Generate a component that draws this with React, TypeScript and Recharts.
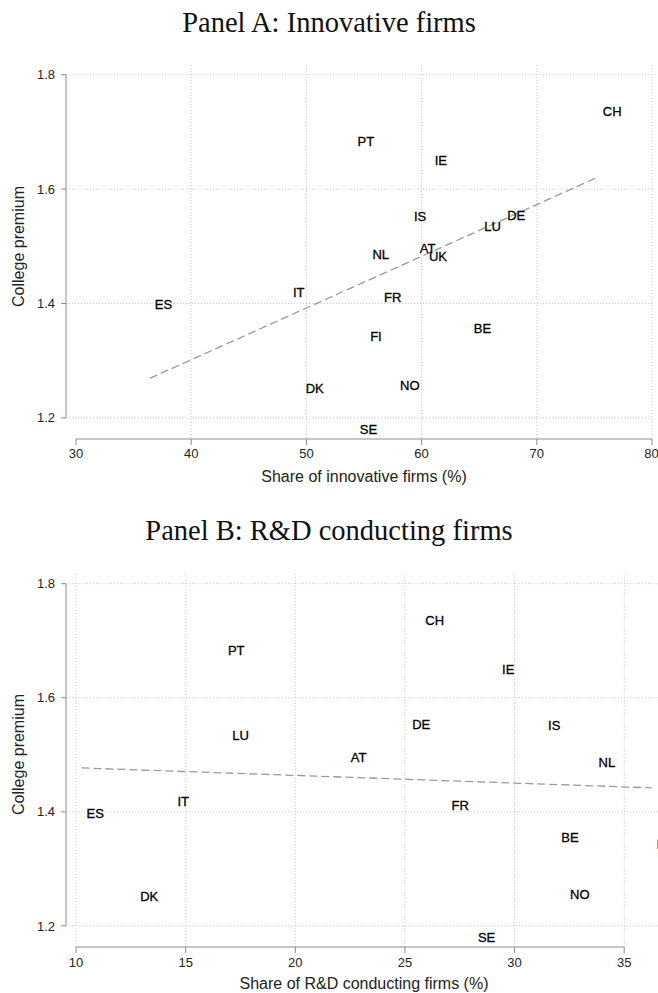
import { ScatterChart, Scatter, XAxis, YAxis, CartesianGrid, ReferenceLine, Label } from "recharts";

// country codes and college premium (same for both panels)
const countries = ["CH", "PT", "IE", "IS", "DE", "LU", "NL", "AT", "UK", "IT", "ES", "FR", "BE", "FI", "DK", "NO", "SE"];
const collegePremium = [1.736, 1.683, 1.65, 1.552, 1.554, 1.535, 1.486, 1.496, 1.483, 1.419, 1.398, 1.411, 1.356, 1.343, 1.251, 1.256, 1.18];

// x values per panel (UK not shown in panel B)
const innovativeShare = [75.3, 54.0, 60.7, 58.9, 67.0, 65.0, 55.3, 59.4, 60.2, 48.4, 36.4, 56.3, 64.1, 55.1, 49.5, 57.7, 54.2];
const rdShare = [25.7, 16.7, 29.2, 31.3, 25.1, 16.9, 33.6, 22.3, null, 14.4, 10.25, 26.9, 31.9, 36.25, 12.7, 32.3, 28.1];

// fitted lines, read off the picture (endpoints)
const fitInnovX = [36.4, 75.2];
const fitInnovY = [1.269, 1.62];
const fitRdX = [10.25, 36.25];
const fitRdY = [1.477, 1.442];

const xTicksA = [30, 40, 50, 60, 70, 80];
const xTicksB = [10, 15, 20, 25, 30, 35];
const yTicks = [1.2, 1.4, 1.6, 1.8];

const SANS = "'Liberation Sans', Arial, Helvetica, sans-serif";
const SERIF = "'Liberation Serif', 'Times New Roman', serif";
const AXIS = "#8c8c8c";
const GRID = "#c8c8c8";

const Y_MIN = 1.163;
const Y_MAX = 1.817;

const toPoints = (xs: (number | null)[]) =>
    countries
        .map((code, i) => ({ code, x: xs[i], y: collegePremium[i] }))
        .filter((d) => d.x !== null);

const toLine = (xs: number[], ys: number[]) => xs.map((x, i) => ({ x, y: ys[i] }));

const CountryLabel = (props: any) => {
    const { cx, cy, payload } = props;
    return (
        <text x={cx + 5} y={cy} dy="0.36em" fontSize={13} fill="#000" stroke="#000" strokeWidth={0.3} fontFamily={SANS}>
            {payload.code}
        </text>
    );
};

const NoDot = () => <g />;

function Panel({ title, top, height, marginTop, marginRight, marginBottom, xAxisHeight, xDomain, xTicks, gridX, xTitle, xTitleY, tickMargin, points, fit }: any) {
    return (
        <div style={{ position: "absolute", left: 0, top, width: 658, height }}>
            <div style={{ position: "absolute", left: 0, top: 9, width: 658, textAlign: "center", fontFamily: SERIF, fontSize: 28.5, lineHeight: "28.5px", color: "#111" }}>
                {title}
            </div>
            <ScatterChart width={658} height={height} margin={{ top: marginTop, right: marginRight, bottom: marginBottom, left: 0 }}>
                <CartesianGrid stroke={GRID} strokeDasharray="1 2" verticalValues={gridX} horizontalValues={yTicks} />
                <XAxis
                    type="number"
                    dataKey="x"
                    domain={xDomain}
                    ticks={xTicks}
                    allowDataOverflow
                    axisLine={false}
                    tickLine={{ stroke: AXIS }}
                    tickSize={6}
                    tickMargin={tickMargin}
                    height={xAxisHeight}
                    tick={{ fill: "#222", fontSize: 13, fontFamily: SANS }}
                >
                    <Label
                        content={() => (
                            <text x={364} y={xTitleY} textAnchor="middle" fontSize={16} fill="#222" fontFamily={SANS}>
                                {xTitle}
                            </text>
                        )}
                    />
                </XAxis>
                <YAxis
                    type="number"
                    dataKey="y"
                    domain={[Y_MIN, Y_MAX]}
                    ticks={yTicks}
                    allowDataOverflow
                    axisLine={false}
                    tickLine={{ stroke: AXIS }}
                    tickSize={5}
                    tickMargin={6}
                    width={66}
                    tick={{ fill: "#222", fontSize: 13, fontFamily: SANS }}
                    tickFormatter={(v: number) => v.toFixed(1)}
                >
                    <Label
                        content={() => (
                            <text x={18} y={246.5} transform="rotate(-90, 18, 246.5)" textAnchor="middle" dominantBaseline="central" fontSize={16} fill="#222" fontFamily={SANS}>
                                College premium
                            </text>
                        )}
                    />
                </YAxis>
                <ReferenceLine segment={[{ x: xTicks[0], y: Y_MIN }, { x: xTicks[xTicks.length - 1], y: Y_MIN }]} stroke={AXIS} ifOverflow="visible" />
                <ReferenceLine segment={[{ x: xDomain[0], y: yTicks[0] }, { x: xDomain[0], y: yTicks[yTicks.length - 1] }]} stroke={AXIS} ifOverflow="visible" />
                <Scatter
                    data={fit}
                    line={{ stroke: "#9a9a9a", strokeWidth: 1.3, strokeDasharray: "8 4" }}
                    shape={NoDot}
                    isAnimationActive={false}
                />
                <Scatter data={points} shape={CountryLabel} isAnimationActive={false} />
            </ScatterChart>
        </div>
    );
}

export default function App() {
    return (
        <div style={{ position: "absolute", left: 0, top: 0, width: 658, height: 993, overflow: "hidden", background: "#fff" }}>
            <Panel
                title="Panel A: Innovative firms"
                top={0}
                height={500}
                marginTop={65}
                marginRight={6}
                marginBottom={11}
                xAxisHeight={50}
                xDomain={[29.13, 80]}
                xTicks={xTicksA}
                gridX={[40, 50, 60, 70, 80]}
                xTitle="Share of innovative firms (%)"
                xTitleY={482.3}
                tickMargin={4}
                points={toPoints(innovativeShare)}
                fit={toLine(fitInnovX, fitInnovY)}
            />
            <Panel
                title="Panel B: R&D conducting firms"
                top={508}
                height={485}
                marginTop={66}
                marginRight={0}
                marginBottom={0}
                xAxisHeight={46}
                xDomain={[9.544, 36.54]}
                xTicks={xTicksB}
                gridX={xTicksB}
                xTitle="Share of R&D conducting firms (%)"
                xTitleY={480.6}
                tickMargin={5}
                points={toPoints(rdShare)}
                fit={toLine(fitRdX, fitRdY)}
            />
        </div>
    );
}
